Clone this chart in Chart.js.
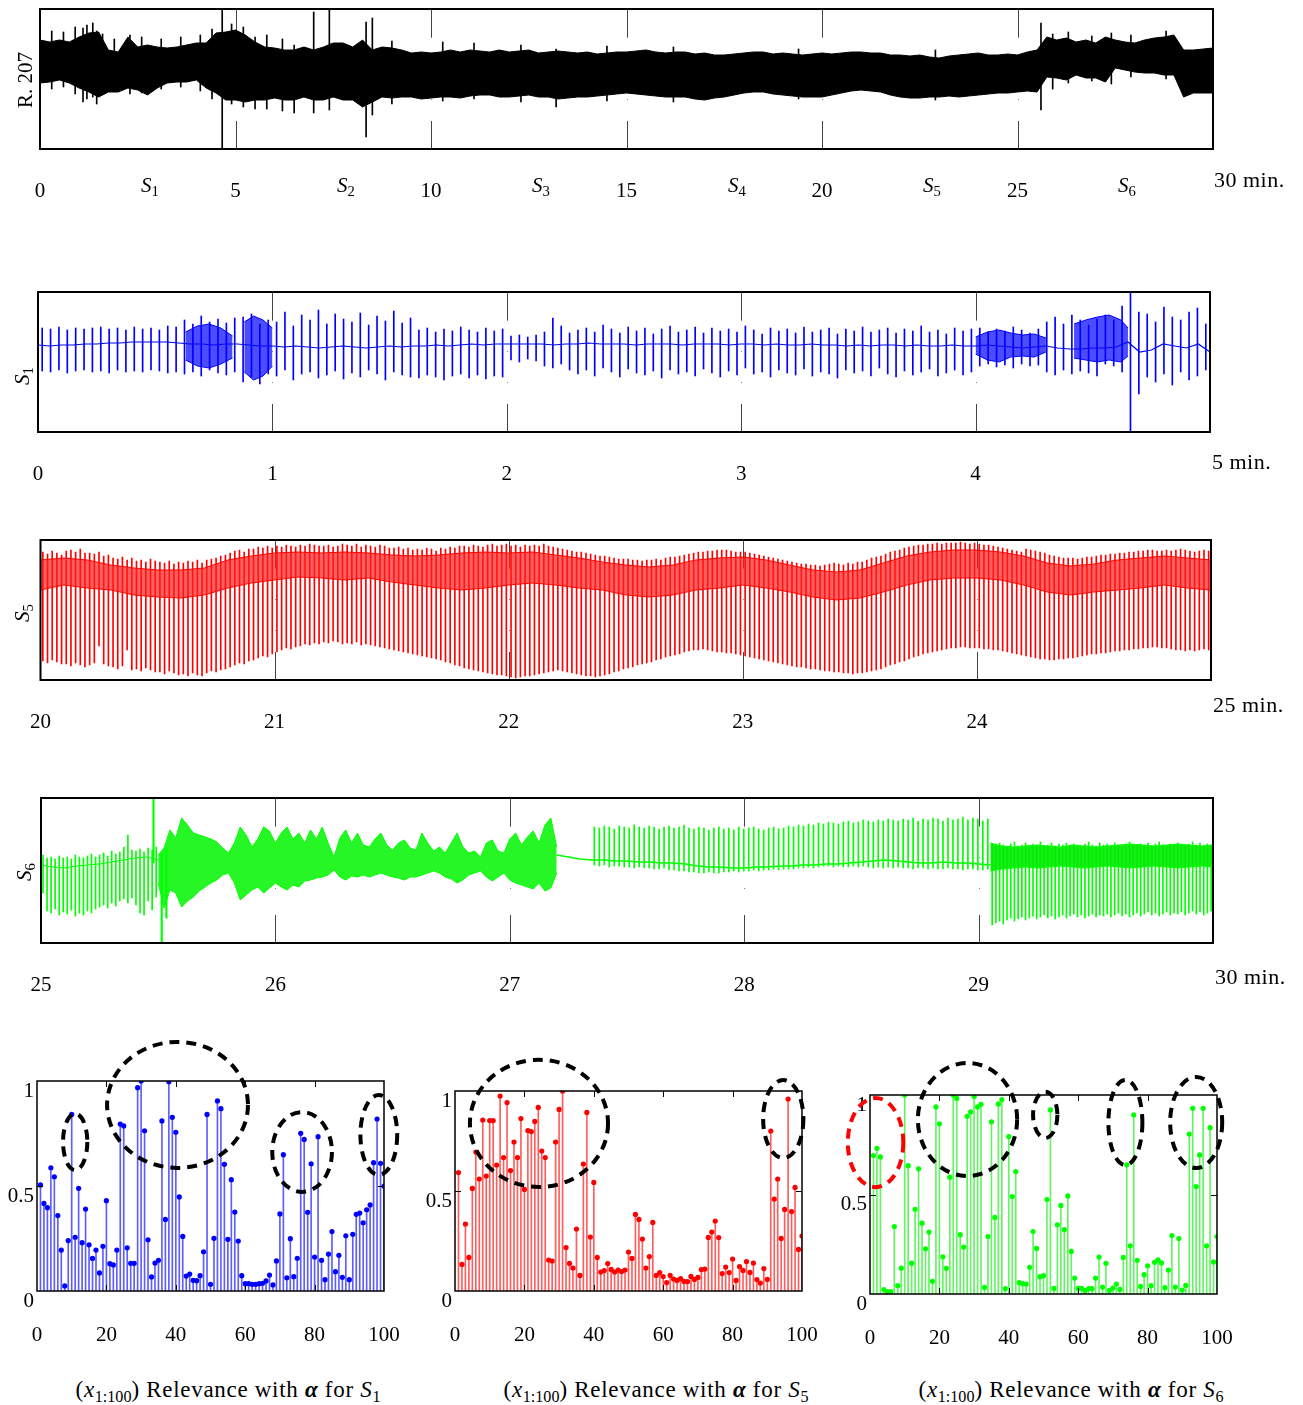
<!DOCTYPE html>
<html>
<head>
<meta charset="utf-8">
<script src="https://cdn.jsdelivr.net/npm/chart.js@4.4.1/dist/chart.umd.min.js"></script>
<style>
  body { margin: 0; background: #fff; }
  #fig { position: relative; width: 1303px; height: 1405px; overflow: hidden; font-family: "Liberation Serif", serif; color: #000; }
  #fig canvas { position: absolute; }
  .t { position: absolute; transform: translate(-50%, -50%); white-space: nowrap; font-size: 21px; }
  .l { position: absolute; transform: translate(0, -50%); white-space: nowrap; font-size: 22px; letter-spacing: 0.5px; }
  .r { position: absolute; transform: translate(-50%, -50%) rotate(-90deg); white-space: nowrap; font-size: 21px; }
  .cap { font-size: 23px; letter-spacing: 0.7px; }
  sub { font-size: 70%; vertical-align: -0.3em; line-height: 0; letter-spacing: 0; }
</style>
</head>
<body>
<div id="fig"></div>
<script>
// ---- data ----

// R. 207, 0-30 min, envelope every 0.25 min (amplitude units, box = 0..140)
const aHi = [109,107,109,107,112,116,117,99,97,112, 102,104,102,101,102,104,106,106,116,117,
  119,114,107,102,101,99,99,102,99,102, 106,106,102,109,99,102,101,99,96,97,
  96,97,99,97,99,98,97,99,97,98, 99,96,97,98,97,96,97,95,96,97,
  97,98,99,97,96,97,97,95,96,94, 94,95,96,97,97,95,96,95,94,95,
  96,95,96,97,97,96,96,94,94,93, 94,92,91,93,94,95,96,94,94,95,
  94,97,99,112,109,111,107,109,106,112, 109,107,106,109,111,112,114,99,99,100, 101];
const aLo = [66,67,69,66,61,57,52,57,57,61, 59,54,61,66,67,67,69,61,56,49,
  49,47,49,49,51,49,49,52,49,49, 52,49,49,42,47,52,51,52,52,50,
  51,52,52,51,53,54,54,52,52,53, 54,52,52,50,51,52,52,53,54,55,
  56,55,54,53,52,52,52,50,49,51, 52,54,56,57,57,55,54,53,52,52,
  52,54,56,58,59,58,57,54,52,51, 51,52,52,53,52,53,54,55,56,56,
  57,58,57,72,71,69,74,71,71,67, 81,79,77,76,76,74,74,52,56,56, 56];
// isolated spikes sticking out of the band (time, low, high)
const aSpikeT  = [0.3, 0.6, 0.9, 1.1, 1.2, 1.35, 1.45, 1.6, 1.9, 2.3, 2.6, 3.1, 3.6, 4.1, 4.4, 4.66, 4.9,
  5.2, 5.5, 5.8, 6.2, 6.5, 7.0, 7.4, 8.34, 8.5, 9.0, 10.3, 11.1, 12.3, 13.2, 14.5, 16.2, 19.4, 22.9,
  25.6, 25.9, 26.3, 26.9, 27.4, 27.9, 28.8];
const aSpikeLo = [60, 62, 55, 47, 50, 52, 45, 55, 58, 55, 56, 60, 62, 58, 50, 0, 45,
  42, 40, 40, 38, 36, 36, 39, 12, 34, 45, 48, 50, 47, 42, 48, 47, 50, 49,
  39, 60, 66, 68, 65, 72, 70];
const aSpikeHi = [118, 117, 122, 121, 124, 126, 118, 115, 110, 114, 112, 110, 112, 114, 120, 140, 125,
  122, 112, 114, 110, 104, 137, 140, 127, 131, 108, 107, 106, 104, 100, 103, 102, 100, 99,
  126, 115, 117, 113, 116, 114, 118];

// S1, 0-5 min: baseline every 0.05 min, one spike per beat (140 beats)
const s1Base = [87,86,87,87,88,88,89,89,90,90,90, 90,89,88,88,87,88,88,87,86,86,
  85,86,85,84,85,86,85,84,85,86,85,86, 86,87,86,87,88,87,88,88,
  88,88,88,87,88,88,89,88,88,88,87,88,88,88,87,88,88,88,87,88,
  88,87,88,87,87,88,87,87,86,87,86,87,87,86,87,86,86,87,86,86,
  87,86,85,84,85,86, 84,83,83,84,84, 85,90,80, 82,88,86,84,88,80];
const s1Peak = [104,103,105,102,104,103,104,105,103,104,102,105,103,104,102,106,105,
  112,108,116,110,113,109,114, 115,118,108,112,
  110,120,106,117,112,122,108,118,113,110,119,107,116,111,121,109,114,
  102,104,100,103,101,105,102,100,104,101,103, 96,97,95,97, 100,114,106,99,
  102,104,100,107,103,99,105,101,104,98,103,106,100,102,105,99,104,101,103,100,
  106,102,98,104,101,103,99,105,100,102,104,98,103,101,105,100,102,104,99,103,
  101,106,100,102,98,104,101,103,
  104,100,103,101,105,102,99,103, 110,115,108,117,112,107,113, 117,112, 126,140,120,
  118,110,125,115,112,120,124,108];
const s1Trough = [61,60,62,59,61,62,60,61,59,62,60,61,60,62,61,59,60,
  58,60,56,62,59,57,60, 50,55,48,58,
  56,62,52,58,60,54,57,61,53,59,55,62,58,52,60,57,55,
  54,57,55,52,56,58,54,57,53,56,55, 72,70,73,71, 66,64,68,62,
  58,62,56,64,60,55,63,59,57,61,54,62,58,60,56,63,59,55,61,57,
  64,58,60,55,62,59,57,63,56,60,58,54,62,59,61,56,64,58,55,61,
  57,60,63,56,59,62,57,60,
  66,68,65,67,64,68,66,67, 60,57,62,58,61,59,56, 68,66, 60,0,38,
  55,50,58,47,60,52,56,62];
const s1NoiseT  = [0.63,0.68,0.73,0.78,0.83, 0.855, 0.88,0.92,0.96,1.0, 1.01,
  4.0,4.05,4.1,4.15,4.2,4.25,4.3, 4.32, 4.42,4.47,4.52,4.57,4.62,4.65];
const s1NoiseHi = [100,106,108,104,96, null, 110,116,112,104, null,
  95,100,102,99,97,98,94, null, 108,112,115,117,112,104];
const s1NoiseLo = [72,66,64,68,74, null, 60,52,56,66, null,
  78,72,70,75,76,75,80, null, 74,72,70,72,70,76];

// S5, 20-25 min: dense band every 0.1 min, one spike per beat (250 beats)
const s5BandTop = [120,122,120,115,112,110,110,112,120,124, 127,128,127,128,127,125,124,125,127,128,
  127,128,125,122,118,115,113,115,120,122, 123,120,115,110,108,110,117,124,128,130,
  130,128,124,117,114,116,120,122,124,122, 120];
const s5BandBot = [90,95,92,90,85,83,82,85,92,97, 100,103,102,100,102,98,95,92,90,92,
  95,97,95,92,90,85,83,85,90,92, 95,92,88,83,80,82,88,95,100,102,
  102,100,95,88,85,88,90,92,95,92, 90];
const s5Trough = [19,17,20,18,16, 16,14,17,15,13, 15,17,34,16,14, 13,11,14,30,10, 11,9,12,10,8,
  8,6,9,7,5, 6,4,7,5,4, 7,9,8,10,11, 13,15,17,16,19, 20,22,24,23,26,
  28,30,32,31,33, 34,36,35,37,36, 38,37,39,38,36, 37,36,38,35,36, 35,34,33,32,31,
  30,29,28,27,26, 25,24,23,22,21, 20,18,17,15,14, 12,11,10,9,8, 7,6,5,5,4,
  3,2,3,4,4, 5,6,7,8,9, 10,9,8,7,6, 5,4,4,3,4, 5,6,8,9,11,
  12,13,15,16,17, 18,20,21,23,24, 25,26,28,29,30, 30,31,30,29,28, 28,27,27,26,25,
  24,23,22,21,20, 19,18,17,16,15, 14,13,13,12,11, 11,10,9,9,8, 8,7,7,6,7,
  7,8,9,10,11, 13,15,16,18,19, 21,23,24,26,27, 28,29,30,31,32, 32,33,33,32,32,
  32,31,31,30,30, 29,28,27,26,25, 24,23,22,21,21, 20,20,21,21,22, 22,23,24,25,26,
  26,27,27,28,29, 29,30,30,31,31, 32,32,33,33,32, 32,31,30,30,29, 30,29,30,31,30];
const s5Peak = [128,126,129,127,125, 129,130,128,131,127, 127,126,128,124,125, 122,121,123,120,122, 119,120,118,121,119,
  118,117,119,116,118, 117,119,118,120,117, 120,121,122,124,125, 127,129,130,128,131, 131,133,132,134,132,
  134,133,135,134,133, 135,134,136,135,134, 134,135,133,134,136, 135,134,136,133,135, 134,133,135,134,132,
  132,133,131,132,130, 131,130,132,131,129, 132,131,133,132,134, 134,133,135,134,133, 135,136,134,135,136,
  134,135,133,135,134, 135,134,136,134,133, 132,131,130,129,128, 128,127,126,125,124, 124,123,122,121,121,
  121,120,120,119,120, 120,121,120,122,123, 123,124,125,126,127, 128,128,129,129,130, 130,130,129,128,128,
  128,127,126,125,124, 123,122,121,120,119, 118,117,116,116,115, 115,114,115,116,117, 116,115,117,116,118,
  118,120,122,123,124, 126,128,129,130,132, 133,134,135,135,136, 136,137,136,137,137, 137,138,137,136,137,
  136,135,135,134,133, 132,131,130,129,128, 131,130,129,128,127, 125,124,123,122,122, 122,121,122,123,123,
  124,125,125,126,126, 127,127,128,128,129, 129,130,130,129,129, 130,129,130,131,130, 129,128,129,130,129];

// S6, 25-30 min (box = 0..145)
const s6aBase = [78,76,75,77,78,79,81,83,85,86,83];          // 25.0-25.5, every 0.05
const s6aPeak = [88,85,86,84,87,85,86,84,88,86, 85,87,89,86,88,90,87,92,89,91, 96,108,93,92,94,91,95,93,96];
const s6aTrough = [50,32,30,34,28,31,29,33,27,30, 28,32,30,34,36,38,35,40,37,42, 44,40,45,38,30,28,42,33,46];
const s6xT = [25.48, 25.515, 25.535];
const s6xLo = [80, 0, 25];
const s6xHi = [145, 90, 95];
const s6bHi = [88,95,113,105,125,118,110,108,106,104, 101,95,90,100,116,108,96,104,116,112,
  100,110,116,104,110,100,113,104,116,100, 86,105,113,100,110,98,96,104,110,98,
  93,100,103,95,93,110,100,92,96,90, 100,110,96,90,92,86,100,103,92,90,
  104,110,98,106,112,100,118,125,96];                               // 25.5-27.2, every 0.025
const s6bLo = [60,35,53,50,36,42,46,52,56,60, 63,68,70,60,43,48,53,56,50,55,
  60,56,53,58,56,62,63,65,66,68, 73,66,63,67,66,68,66,68,70,68,
  66,65,63,66,66,68,70,72,70,66, 64,60,63,68,70,72,66,62,66,70,
  63,60,58,56,54,60,52,55,70];
const s6cBase = [88,86,84,83,83,82,82,81,81,80, 80,79,77,76,76,75,75,76,76,77,
  77,78,78,79,79,80,81,82,83,82, 81,80,80,81,80,80,79,78];       // 27.2-29.05, every 0.05
const s6cPeak = [116,115,117,116,114,117,116,115,118,116,115,117,116,114,116,117,115,116,118,115,
  114,116,115,113,115,116,114,115,113,116,114,115,116,114,113,115,116,114,115,117,
  116,118,117,119,118,120,119,121,120,119,121,122,120,121,123,122,121,123,122,124,
  123,122,124,123,125,122,124,123,125,124,122,125,123,124,126,123,125,124,122,124];
const s6cLow = [78,77,78,76,77,77,76,76,75,76,75,75,74,74,75,73,73,72,72,71,
  71,70,70,71,70,70,71,71,72,71,72,72,73,72,73,73,74,73,74,74,
  74,75,75,76,75,76,77,77,76,77,76,76,77,76,77,76,75,76,75,76,
  75,76,75,75,74,75,75,74,75,74,74,75,74,74,73,74,74,73,73,74];
const s6dHi = [100,97,96,97,98,97,96,98,97,96,97,98,99,98,97,98,99,98,97,98];   // 29.05-30
const s6dLo = [72,74,75,76,75,76,77,76,75,76,77,76,75,76,77,76,75,76,77,76];
const s6dTrough = [18,20,22,19,23,25,22,24,26,23, 25,27,24,26,28,25,27,24,26,28,
  25,27,29,26,28,25,27,29,26,28, 27,29,26,28,30,27,29,26,28,30,
  27,29,31,28,30,27,29,31,28,30, 29,31,28,30,32,29,31,28,30,32];
const s6dPeak = [99,97,100,98,96,99,101,97,98,100, 97,99,98,101,96,98,100,97,99,98,
  100,97,99,98,96,99,101,98,97,100, 98,99,97,100,98,96,99,101,98,97,
  99,98,100,97,99,101,98,96,99,98, 100,98,97,99,101,98,100,97,99,98];

// relevance (x_1..x_100)
const relS1 = [0.505,0.417,0.397,0.587,0.544,0.359,0.195,0.024,0.24,0.841,
  0.256,0.489,0.23,0.39,0.22,0.155,0.195,0.086,0.213,0.43,
  0.13,0.124,0.195,0.795,0.786,0.206,0.132,0.132,0.968,1.0,
  0.763,0.244,0.067,0.133,0.146,0.81,0.341,0.997,0.827,0.756,
  0.448,0.26,0.071,0.081,0.051,0.049,0.073,0.187,0.841,0.032,
  0.251,0.905,0.868,0.603,0.246,0.53,0.376,0.238,0.073,0.035,
  0.035,0.032,0.032,0.035,0.037,0.048,0.076,0.029,0.143,0.367,
  0.649,0.063,0.249,0.068,0.156,0.751,0.722,0.375,0.606,0.162,
  0.735,0.146,0.054,0.176,0.283,0.092,0.17,0.065,0.263,0.054,
  0.27,0.365,0.371,0.325,0.387,0.41,0.611,0.819,0.608,0.5];
const relS5 = [0.592,0.133,0.335,0.168,0.513,0.695,0.56,0.855,0.575,0.852,
  0.852,0.63,0.975,0.667,0.942,0.602,0.745,0.667,0.862,0.508,
  0.802,0.797,0.848,0.918,0.7,0.667,0.155,0.15,0.745,0.908,
  1.0,0.217,0.138,0.115,0.31,0.078,0.635,0.893,0.27,0.543,
  0.168,0.095,0.102,0.137,0.108,0.095,0.105,0.097,0.105,0.195,
  0.163,0.383,0.358,0.26,0.115,0.172,0.343,0.078,0.092,0.072,
  0.042,0.078,0.06,0.053,0.062,0.048,0.047,0.073,0.058,0.068,
  0.107,0.11,0.268,0.295,0.35,0.267,0.087,0.12,0.092,0.16,
  0.053,0.122,0.103,0.147,0.093,0.14,0.057,0.04,0.112,0.058,
  0.8,0.46,0.56,0.263,0.408,0.96,0.397,0.518,0.208,0.275];
const relS6 = [0.696,0.732,0.689,0.022,0.012,0.012,0.339,0.042,0.13,1.0,
  0.645,0.155,0.426,0.629,0.356,0.227,0.311,0.064,0.94,0.855,
  0.187,0.129,0.587,1.0,0.983,0.298,0.236,0.893,0.915,0.993,
  0.94,0.953,0.033,0.289,0.865,0.385,0.955,0.977,0.027,0.791,
  0.49,0.615,0.057,0.052,0.05,0.134,0.314,0.229,0.087,0.092,
  0.475,0.925,0.028,0.348,0.445,0.323,0.493,0.214,0.08,0.028,
  0.028,0.017,0.027,0.027,0.08,0.186,0.035,0.154,0.018,0.03,
  0.05,0.023,0.184,0.649,0.242,0.9,0.169,0.038,0.097,0.142,
  0.042,0.159,0.171,0.156,0.032,0.12,0.294,0.035,0.279,0.02,
  0.043,0.804,0.933,0.54,0.699,0.933,0.242,0.836,0.161,0.289];

// dashed rings: [center x, center y, radius x, radius y, colour] in data units
const rings1 = [[11, 0.71, 3.5, 0.134], [40.5, 0.886, 20.3, 0.3], [76.4, 0.662, 8.6, 0.19], [98.5, 0.743, 5.3, 0.19]];
const rings2 = [[24.2, 0.838, 19.9, 0.318], [94.6, 0.86, 5.8, 0.195]];
const rings3 = [[1.6, 0.761, 8.0, 0.224, '#ff0000'], [28.1, 0.877, 14.3, 0.284], [50.5, 0.9, 3.5, 0.116],
  [73.6, 0.862, 4.9, 0.214], [94.0, 0.862, 7.5, 0.229]];

// ---- helpers ----
const fig = document.getElementById('fig');
Chart.defaults.font.family = '"Liberation Serif", serif';
Chart.defaults.font.size = 21;
Chart.defaults.color = '#000';

function grid(t0, t1, vals) {
  const n = vals.length;
  return vals.map((v, i) => ({ x: t0 + i * (t1 - t0) / (n - 1), y: v }));
}
function beats(t0, t1, lo, hi) {
  const n = lo.length;
  return lo.map((v, i) => ({ x: t0 + (i + 0.5) * (t1 - t0) / n, y: [v, hi[i]] }));
}
function at(ts, a, b) {
  return ts.map((t, i) => ({ x: t, y: b ? [a[i], b[i]] : a[i] }));
}
function canvasAt(left, top, w, h) {
  const c = document.createElement('canvas');
  c.width = w; c.height = h;
  c.style.left = left + 'px'; c.style.top = top + 'px';
  c.style.width = w + 'px'; c.style.height = h + 'px';
  fig.appendChild(c);
  return c;
}
function label(html, x, y, cls) {
  const d = document.createElement('div');
  d.className = cls;
  d.style.left = x + 'px'; d.style.top = y + 'px';
  d.innerHTML = html;
  fig.appendChild(d);
}

const frame = {
  id: 'frame',
  beforeDatasetsDraw(chart, args, o) {
    if (o.mode !== 'signal') return;
    const { ctx, chartArea: a, scales: { x } } = chart;
    ctx.save();
    ctx.lineWidth = 1;
    x.ticks.forEach(t => {
      if (t.value <= x.min || t.value >= x.max) return;
      const px = Math.round(x.getPixelForValue(t.value)) + 0.5;
      ctx.setLineDash([]);
      ctx.strokeStyle = '#444';
      ctx.beginPath();
      ctx.moveTo(px, a.top); ctx.lineTo(px, a.top + o.tickLen);
      ctx.moveTo(px, a.bottom); ctx.lineTo(px, a.bottom - o.tickLen);
      ctx.stroke();
      ctx.setLineDash([1, 30]);
      ctx.strokeStyle = '#888';
      ctx.beginPath();
      ctx.moveTo(px, a.top + o.tickLen); ctx.lineTo(px, a.bottom - o.tickLen);
      ctx.stroke();
    });
    ctx.restore();
  },
  afterDatasetsDraw(chart, args, o) {
    const { ctx, chartArea: a, scales: { x, y } } = chart;
    ctx.save();
    if (o.mode === 'stem') {
      ctx.strokeStyle = '#000';
      ctx.lineWidth = 1;
      ctx.beginPath();
      x.ticks.forEach(t => {
        if (t.value <= x.min || t.value >= x.max) return;
        const px = Math.round(x.getPixelForValue(t.value)) + 0.5;
        ctx.moveTo(px, a.top); ctx.lineTo(px, a.top + 6);
        ctx.moveTo(px, a.bottom); ctx.lineTo(px, a.bottom - 6);
      });
      y.ticks.forEach(t => {
        if (t.value <= y.min || t.value >= y.max) return;
        const py = Math.round(y.getPixelForValue(t.value)) + 0.5;
        ctx.moveTo(a.left, py); ctx.lineTo(a.left + 6, py);
        ctx.moveTo(a.right, py); ctx.lineTo(a.right - 6, py);
      });
      ctx.stroke();
    }
    ctx.lineWidth = o.width;
    ctx.strokeStyle = '#000';
    ctx.strokeRect(a.left, a.top, a.right - a.left, a.bottom - a.top);
    ctx.restore();
  }
};

const ringsPlugin = {
  id: 'rings',
  afterDraw(chart, args, o) {
    const { ctx, scales: { x, y } } = chart;
    ctx.save();
    ctx.lineWidth = 4;
    ctx.setLineDash([10, 7]);
    (o.list || []).forEach(r => {
      const cx = x.getPixelForValue(r[0]), cy = y.getPixelForValue(r[1]);
      const rx = Math.abs(x.getPixelForValue(r[0] + r[2]) - cx);
      const ry = Math.abs(y.getPixelForValue(r[1] + r[3]) - cy);
      ctx.strokeStyle = r[4] || '#000';
      ctx.beginPath();
      ctx.ellipse(cx, cy, rx, ry, 0, 0, Math.PI * 2);
      ctx.stroke();
    });
    ctx.restore();
  }
};

function signalChart(left, top, w, h, pad, axisH, xr, yMax, datasets) {
  return new Chart(canvasAt(left, top, w, h), {
    type: 'line',
    data: { datasets },
    options: {
      responsive: false, animation: false, events: [], devicePixelRatio: 1,
      layout: { padding: pad },
      elements: { point: { radius: 0 }, line: { borderWidth: 1, tension: 0 } },
      plugins: { legend: { display: false }, tooltip: { enabled: false }, frame: { mode: 'signal', width: 2, tickLen: 28 } },
      scales: {
        x: {
          type: 'linear', min: xr[0], max: xr[1], offset: false,
          grid: { display: false, drawTicks: false }, border: { display: false },
          ticks: { stepSize: xr[2], padding: 30, autoSkip: false, maxRotation: 0,
            callback: v => (v === xr[1] ? '' : String(v)) },
          afterFit(s) { s.height = axisH; }
        },
        y: { display: false, min: 0, max: yMax }
      }
    },
    plugins: [frame]
  });
}

function stemChart(left, top, w, h, pad, axisH, vals, stemCol, dotCol, rings) {
  const pts = vals.map((v, i) => ({ x: i + 1, y: v }));
  return new Chart(canvasAt(left, top, w, h), {
    type: 'scatter',
    data: {
      datasets: [
        { type: 'scatter', data: pts, pointRadius: 2.6, pointBackgroundColor: dotCol, pointBorderWidth: 0 },
        { type: 'bar', data: pts, backgroundColor: stemCol, barThickness: 1, grouped: false }
      ]
    },
    options: {
      responsive: false, animation: false, events: [], devicePixelRatio: 1,
      layout: { padding: pad },
      plugins: { legend: { display: false }, tooltip: { enabled: false },
        frame: { mode: 'stem', width: 1.5 }, rings: { list: rings } },
      scales: {
        x: {
          type: 'linear', min: 0, max: 100, offset: false,
          grid: { display: false, drawTicks: false }, border: { display: false },
          // tall line box pushes the labels down without widening the side padding
          ticks: { stepSize: 20, padding: 2, autoSkip: false, maxRotation: 0, font: { lineHeight: 4 } },
          afterFit(s) { s.height = axisH; }
        },
        y: {
          type: 'linear', min: 0, max: 1,
          grid: { display: false, drawTicks: false }, border: { display: false },
          ticks: { stepSize: 0.5, padding: 3, labelOffset: 10, callback: v => String(v) },
          afterFit(s) { s.width = 37; }
        }
      }
    },
    plugins: [frame, ringsPlugin]
  });
}

// ---- the four recordings ----
const BLACK = '#000', BLUE = '#0000ff', RED = '#ff0000', GREEN = '#00ff00';

signalChart(0, 0, 1303, 215, { left: 40, top: 9, right: 90, bottom: 0 }, 66, [0, 30, 5], 140, [
  { data: grid(0, 30, aHi), borderColor: BLACK },
  { data: grid(0, 30, aLo), borderColor: BLACK, fill: '-1', backgroundColor: BLACK },
  { type: 'bar', data: at(aSpikeT, aSpikeLo, aSpikeHi), backgroundColor: BLACK, barThickness: 1, grouped: false }
]);

signalChart(0, 285, 1303, 210, { left: 38, top: 7, right: 93, bottom: 0 }, 63, [0, 5, 1], 140, [
  { data: grid(0, 5, s1Base), borderColor: BLUE, borderWidth: 1.2 },
  { data: at(s1NoiseT, s1NoiseHi), borderColor: BLUE, spanGaps: false },
  { data: at(s1NoiseT, s1NoiseLo), borderColor: BLUE, spanGaps: false, fill: '-1', backgroundColor: 'rgba(0,0,255,0.7)' },
  { type: 'bar', data: beats(0, 5, s1Trough, s1Peak), backgroundColor: BLUE, barThickness: 1, grouped: false }
]);

signalChart(0, 533, 1303, 210, { left: 39, top: 7, right: 92, bottom: 0 }, 63, [20, 25, 1], 140, [
  { data: grid(20, 25, s5BandTop), borderColor: RED },
  { data: grid(20, 25, s5BandBot), borderColor: RED, fill: '-1', backgroundColor: 'rgba(255,30,30,0.7)' },
  { type: 'bar', data: beats(20, 25, s5Trough, s5Peak), backgroundColor: RED, barThickness: 1, grouped: false }
]);

signalChart(0, 790, 1303, 215, { left: 41, top: 8, right: 90, bottom: 0 }, 62, [25, 30, 1], 145, [
  { data: grid(25, 25.5, s6aBase), borderColor: GREEN },
  { type: 'bar', data: beats(25, 25.5, s6aTrough, s6aPeak), backgroundColor: GREEN, barThickness: 1, grouped: false },
  { type: 'bar', data: at(s6xT, s6xLo, s6xHi), backgroundColor: GREEN, barThickness: 1.5, grouped: false },
  { data: grid(25.5, 27.2, s6bHi), borderColor: GREEN },
  { data: grid(25.5, 27.2, s6bLo), borderColor: GREEN, fill: '-1', backgroundColor: 'rgba(0,245,0,0.85)' },
  { data: grid(27.2, 29.05, s6cBase), borderColor: GREEN, borderWidth: 1.6 },
  { type: 'bar', data: beats(27.35, 29.05, s6cLow, s6cPeak), backgroundColor: GREEN, barThickness: 1, grouped: false },
  { data: grid(29.05, 30, s6dHi), borderColor: GREEN },
  { data: grid(29.05, 30, s6dLo), borderColor: GREEN, fill: '-1', backgroundColor: 'rgba(0,235,0,0.9)' },
  { type: 'bar', data: beats(29.05, 30, s6dTrough, s6dPeak), backgroundColor: GREEN, barThickness: 1, grouped: false }
]);

// ---- relevance stems ----
stemChart(0, 1030, 420, 330, { left: 0, top: 51, right: 36, bottom: 0 }, 69, relS1, 'rgba(40,40,255,0.75)', BLUE, rings1);
stemChart(418, 1030, 420, 330, { left: 0, top: 61, right: 36, bottom: 0 }, 69, relS5, 'rgba(255,40,40,0.75)', RED, rings2);
stemChart(833, 1030, 430, 330, { left: 0, top: 65, right: 46, bottom: 0 }, 66, relS6, 'rgba(60,240,60,0.8)', GREEN, rings3);

// ---- text ----
label('R. 207', 25, 80, 'r');
label('<i>S</i><sub>1</sub>', 22, 376, 'r');
label('<i>S</i><sub>5</sub>', 22, 613, 'r');
label('<i>S</i><sub>6</sub>', 24, 872, 'r');
[150, 346, 541, 737, 932, 1127].forEach((x, i) => label('<i>S</i><sub>' + (i + 1) + '</sub>', x, 185, 't'));
label('30 min.', 1214, 180, 'l');
label('5 min.', 1212, 462, 'l');
label('25 min.', 1213, 705, 'l');
label('30 min.', 1215, 977, 'l');
[[228, 1], [656, 5], [1071, 6]].forEach(([x, s]) =>
  label('(<i>x</i><sub>1:100</sub>) Relevance with <b><i>α</i></b> for <i>S</i><sub>' + s + '</sub>', x, 1390, 't cap'));
</script>
</body>
</html>
